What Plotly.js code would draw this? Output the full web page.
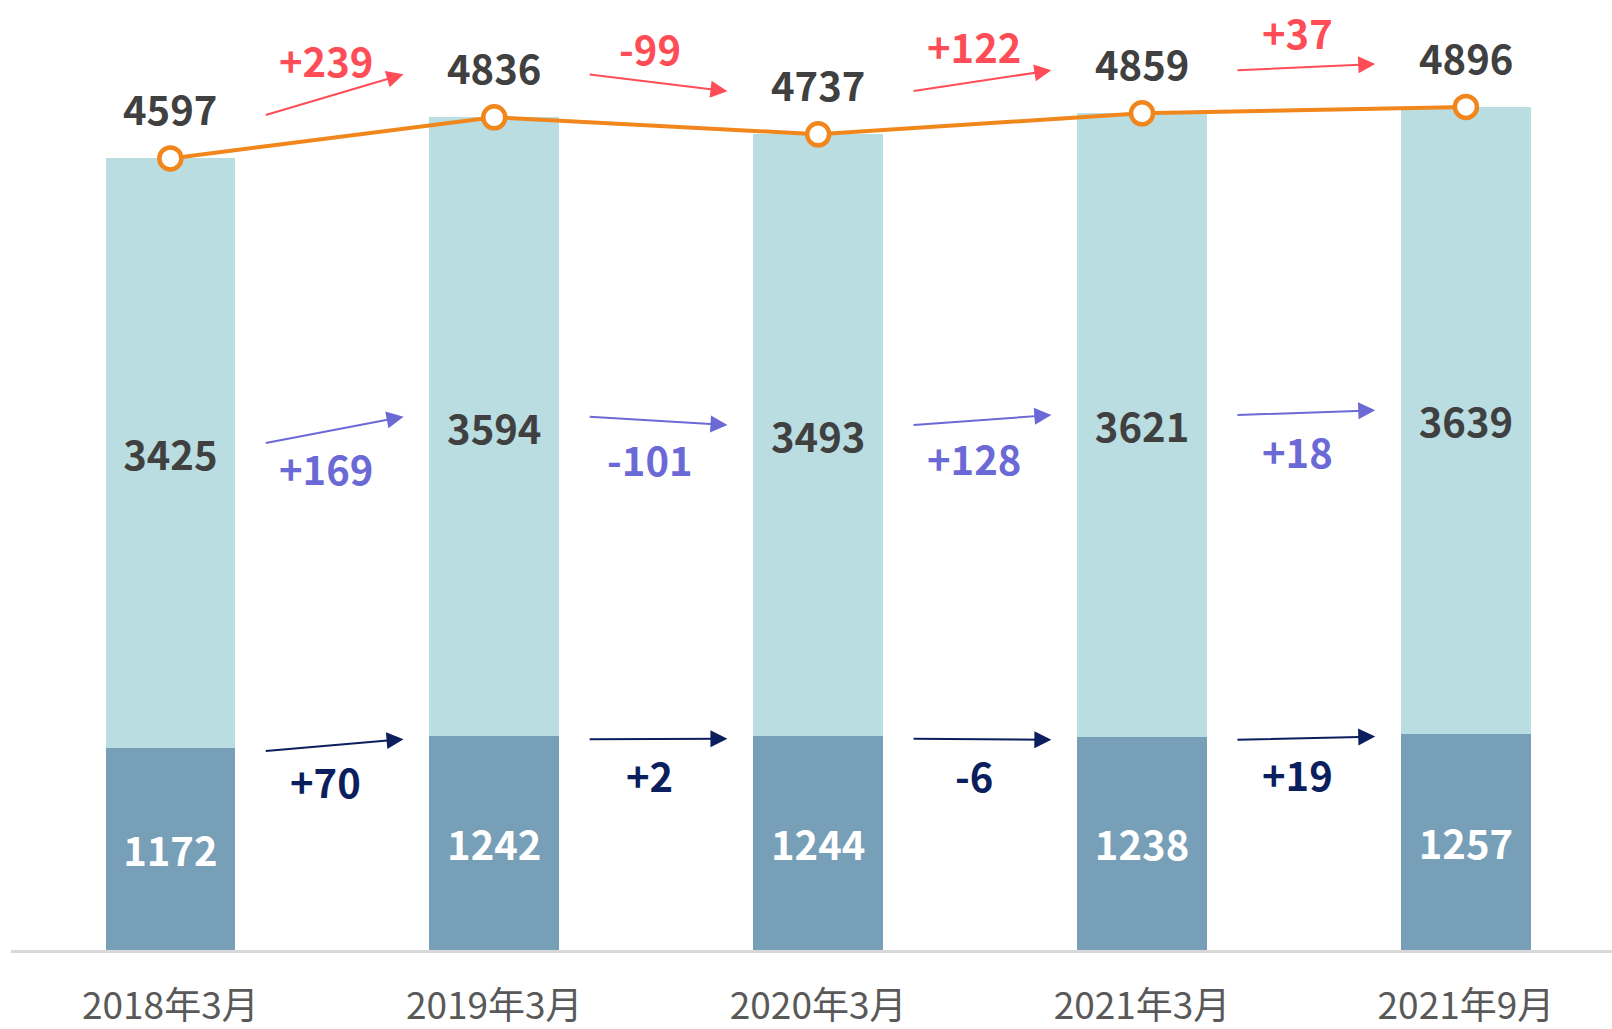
<!DOCTYPE html>
<html>
<head>
<meta charset="utf-8">
<script src="https://cdn.plot.ly/plotly-3.0.1.min.js"></script>
<style>
html,body{margin:0;padding:0;background:#fff;}
#chart{width:1612px;height:1029px;}
</style>
</head>
<body>
<div id="chart"></div>
<script>
// ---- data ----
const categories = ['2018年3月', '2019年3月', '2020年3月', '2021年3月', '2021年9月'];
const bottomValues = [1172, 1242, 1244, 1238, 1257];
const topValues = [3425, 3594, 3493, 3621, 3639];
const totalValues = [4597, 4836, 4737, 4859, 4896];
const totalChanges = ['+239', '-99', '+122', '+37'];
const topChanges = ['+169', '-101', '+128', '+18'];
const bottomChanges = ['+70', '+2', '-6', '+19'];

// ---- style ----
const FONT = '"Noto Sans CJK JP", "Noto Sans", sans-serif';
const C_TOP = '#b9dde1';
const C_BOTTOM = '#779fb7';
const C_LINE = '#f0861c';
const C_TEXT = '#404040';
const C_RED = '#ff4d57';
const C_PURPLE = '#6b69d6';
const C_NAVY = '#0b1f5e';
const LABEL_SIZE = 40;
const YMAX = 5517;
const PX = 950 / YMAX; // pixels per data unit

const traces = [
  {
    type: 'bar', x: categories, y: bottomValues,
    marker: {color: C_BOTTOM},
    text: bottomValues.map(String), textposition: 'inside', insidetextanchor: 'middle',
    textangle: 0, constraintext: 'none',
    textfont: {family: FONT, size: LABEL_SIZE, color: '#ffffff', weight: 'bold'},
    hoverinfo: 'none', showlegend: false
  },
  {
    type: 'bar', x: categories, y: topValues,
    marker: {color: C_TOP},
    text: topValues.map(String), textposition: 'inside', insidetextanchor: 'middle',
    textangle: 0, constraintext: 'none',
    textfont: {family: FONT, size: LABEL_SIZE, color: C_TEXT, weight: 'bold'},
    hoverinfo: 'none', showlegend: false
  },
  {
    type: 'scatter', mode: 'lines+markers', x: categories, y: totalValues,
    line: {color: C_LINE, width: 4},
    marker: {size: 22, color: '#ffffff', line: {color: C_LINE, width: 4.5}},
    cliponaxis: false, hoverinfo: 'none', showlegend: false
  }
];

const annotations = [];
// total labels above markers
totalValues.forEach((v, i) => {
  annotations.push({
    x: i, y: v, xref: 'x', yref: 'y', yshift: 50, showarrow: false,
    text: '<b>' + v + '</b>',
    font: {family: FONT, size: LABEL_SIZE, color: C_TEXT}
  });
});

function addArrow(i, tailY, headY, color, label, labelShift) {
  const x0 = i + 0.29, x1 = i + 0.72;
  annotations.push({
    xref: 'x', yref: 'y', axref: 'x', ayref: 'y',
    x: x1, y: headY, ax: x0, ay: tailY,
    text: '', showarrow: true, arrowhead: 2, arrowsize: 1.7, arrowwidth: 2,
    arrowcolor: color, standoff: 0, startstandoff: 0
  });
  annotations.push({
    xref: 'x', yref: 'y', x: i + 0.48, y: (tailY + headY) / 2, yshift: labelShift,
    showarrow: false, text: '<b>' + label + '</b>',
    font: {family: FONT, size: LABEL_SIZE, color: color}
  });
}

for (let i = 0; i < 4; i++) {
  const offR = 43 / PX;
  addArrow(i, totalValues[i] + offR, totalValues[i + 1] + offR, C_RED, totalChanges[i], 35);
  const offP = 10 / PX;
  addArrow(i, bottomValues[i] + topValues[i] / 2 + offP, bottomValues[i + 1] + topValues[i + 1] / 2 + offP,
    C_PURPLE, topChanges[i], -38);
  const offN = -3 / PX;
  addArrow(i, bottomValues[i] + offN, bottomValues[i + 1] + offN, C_NAVY, bottomChanges[i], -36);
}

const layout = {
  width: 1612, height: 1029,
  margin: {l: 11, r: 0, t: 0, b: 79, pad: 0},
  paper_bgcolor: '#ffffff', plot_bgcolor: '#ffffff',
  barmode: 'stack', bargap: 0.6,
  font: {family: FONT},
  xaxis: {
    type: 'category', range: [-0.492, 4.451],
    showline: true, linecolor: '#d9d9d9', linewidth: 3,
    ticks: '', showgrid: false, zeroline: false,
    tickfont: {family: FONT, size: 37, color: '#595959'},
    ticklabelstandoff: 22, fixedrange: true
  },
  yaxis: {
    range: [0, YMAX], visible: false, showgrid: false, zeroline: false, fixedrange: true
  },
  annotations: annotations,
  showlegend: false
};

Plotly.newPlot('chart', traces, layout, {displayModeBar: false, staticPlot: true});
</script>
</body>
</html>
